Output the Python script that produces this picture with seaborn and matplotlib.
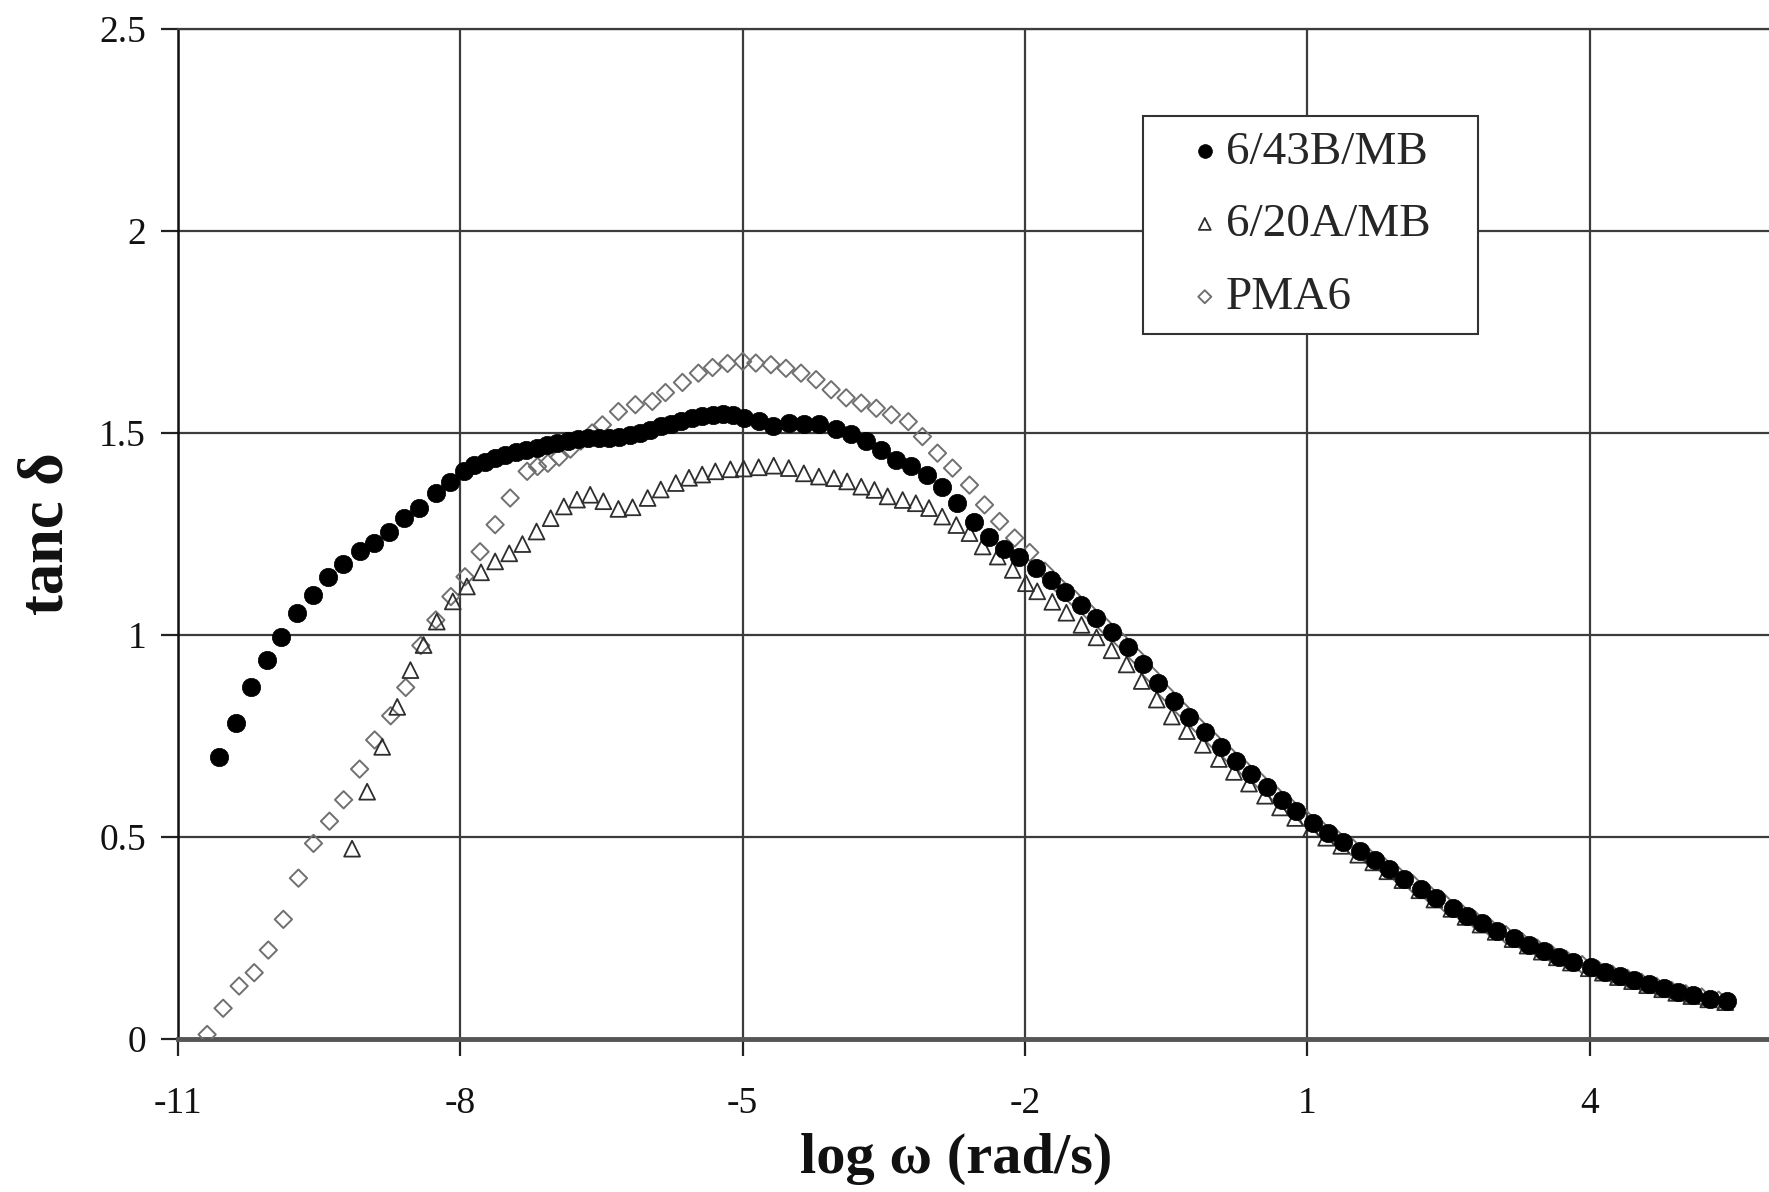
import matplotlib
matplotlib.use("Agg")
import matplotlib.pyplot as plt
import seaborn as sns
import pandas as pd

# ---------------- data ----------------
b43_x = [-10.56, -10.38, -10.22, -10.05, -9.90, -9.73, -9.57, -9.41, -9.25, -9.07,
         -8.92, -8.76, -8.60, -8.44, -8.26, -8.11, -7.96, -7.85, -7.74, -7.63,
         -7.52, -7.41, -7.30, -7.19, -7.08, -6.97, -6.86, -6.75, -6.64, -6.53,
         -6.42, -6.31, -6.20, -6.09, -5.98, -5.87, -5.76, -5.65, -5.54, -5.43,
         -5.32, -5.21, -5.10, -4.99, -4.83, -4.68, -4.51, -4.35, -4.19, -4.01,
         -3.85, -3.69, -3.53, -3.37, -3.21, -3.04, -2.88, -2.72, -2.54, -2.38,
         -2.22, -2.06, -1.88, -1.72, -1.57, -1.41, -1.25, -1.08, -0.91, -0.75,
         -0.59, -0.42, -0.26, -0.09, 0.08, 0.24, 0.40, 0.57, 0.73, 0.88,
         1.06, 1.22, 1.38, 1.56, 1.72, 1.87, 2.03, 2.21, 2.37, 2.55,
         2.70, 2.86, 3.02, 3.20, 3.36, 3.51, 3.67, 3.82, 4.01, 4.16,
         4.32, 4.47, 4.63, 4.79, 4.94, 5.10, 5.28, 5.46]
b43_y = [0.699, 0.782, 0.871, 0.937, 0.996, 1.054, 1.099, 1.143, 1.175, 1.208,
         1.227, 1.256, 1.289, 1.314, 1.351, 1.378, 1.407, 1.420, 1.429, 1.437,
         1.446, 1.453, 1.459, 1.464, 1.470, 1.475, 1.480, 1.484, 1.487, 1.487,
         1.488, 1.490, 1.495, 1.500, 1.508, 1.516, 1.523, 1.530, 1.536, 1.541,
         1.544, 1.546, 1.545, 1.538, 1.530, 1.518, 1.524, 1.523, 1.521, 1.510,
         1.498, 1.479, 1.458, 1.434, 1.417, 1.396, 1.367, 1.326, 1.280, 1.243,
         1.214, 1.192, 1.165, 1.136, 1.107, 1.074, 1.041, 1.008, 0.971, 0.928,
         0.880, 0.836, 0.798, 0.761, 0.723, 0.688, 0.657, 0.624, 0.592, 0.563,
         0.534, 0.510, 0.488, 0.464, 0.443, 0.420, 0.397, 0.372, 0.348, 0.325,
         0.305, 0.286, 0.267, 0.249, 0.233, 0.218, 0.204, 0.191, 0.177, 0.166,
         0.155, 0.145, 0.135, 0.125, 0.116, 0.108, 0.100, 0.093]

a20_x = [-9.15, -8.99, -8.83, -8.67, -8.53, -8.39, -8.25, -8.08, -7.93, -7.78,
         -7.63, -7.48, -7.34, -7.19, -7.04, -6.90, -6.76, -6.62, -6.48, -6.32,
         -6.17, -6.01, -5.87, -5.71, -5.57, -5.43, -5.29, -5.13, -4.99, -4.83,
         -4.67, -4.51, -4.35, -4.19, -4.03, -3.89, -3.74, -3.60, -3.46, -3.30,
         -3.16, -3.02, -2.88, -2.73, -2.59, -2.45, -2.29, -2.13, -1.99, -1.87,
         -1.71, -1.56, -1.40, -1.24, -1.08, -0.92, -0.76, -0.60, -0.44, -0.28,
         -0.11, 0.06, 0.22, 0.38, 0.55, 0.71, 0.87, 1.04, 1.20, 1.36,
         1.54, 1.70, 1.85, 2.01, 2.19, 2.35, 2.53, 2.68, 2.84, 3.00,
         3.18, 3.34, 3.49, 3.65, 3.80, 3.99, 4.14, 4.30, 4.45, 4.61,
         4.77, 4.92, 5.08, 5.26, 5.44]
a20_y = [0.471, 0.612, 0.723, 0.822, 0.913, 0.975, 1.033, 1.083, 1.120, 1.155,
         1.182, 1.202, 1.225, 1.256, 1.289, 1.318, 1.335, 1.347, 1.331, 1.312,
         1.316, 1.339, 1.360, 1.376, 1.389, 1.397, 1.405, 1.410, 1.412, 1.415,
         1.419, 1.413, 1.400, 1.392, 1.388, 1.380, 1.367, 1.359, 1.343, 1.334,
         1.326, 1.314, 1.293, 1.272, 1.252, 1.219, 1.194, 1.161, 1.128, 1.108,
         1.082, 1.055, 1.025, 0.994, 0.962, 0.927, 0.886, 0.840, 0.798, 0.762,
         0.728, 0.693, 0.661, 0.632, 0.602, 0.573, 0.547, 0.520, 0.498, 0.478,
         0.456, 0.437, 0.415, 0.393, 0.368, 0.345, 0.322, 0.302, 0.283, 0.265,
         0.247, 0.231, 0.216, 0.202, 0.189, 0.175, 0.164, 0.153, 0.143, 0.133,
         0.123, 0.114, 0.106, 0.098, 0.091]

pma_x = [-10.69, -10.52, -10.35, -10.19, -10.04, -9.88, -9.72, -9.56, -9.39, -9.24,
         -9.07, -8.91, -8.74, -8.58, -8.42, -8.26, -8.10, -7.95, -7.79, -7.63,
         -7.47, -7.29, -7.18, -7.07, -6.95, -6.83, -6.72, -6.60, -6.49, -6.32,
         -6.14, -5.96, -5.82, -5.64, -5.47, -5.32, -5.16, -5.00, -4.86, -4.70,
         -4.54, -4.38, -4.22, -4.06, -3.90, -3.74, -3.58, -3.42, -3.24, -3.09,
         -2.93, -2.77, -2.59, -2.43, -2.27, -2.11, -1.95, -1.79, -1.63, -1.47,
         -1.31, -1.15, -0.99, -0.83, -0.67, -0.51, -0.34, -0.18, -0.01, 0.16,
         0.32, 0.49, 0.65, 0.81, 0.97, 1.14, 1.30, 1.47, 1.64, 1.80,
         1.95, 2.12, 2.29, 2.46, 2.63, 2.78, 2.94, 3.11, 3.28, 3.44,
         3.59, 3.75, 3.92, 4.09, 4.24, 4.40, 4.55, 4.71, 4.87, 5.02,
         5.19, 5.37]
pma_y = [0.011, 0.076, 0.131, 0.164, 0.220, 0.296, 0.398, 0.484, 0.539, 0.592,
         0.668, 0.740, 0.800, 0.870, 0.974, 1.037, 1.095, 1.144, 1.206, 1.273,
         1.339, 1.405, 1.417, 1.425, 1.440, 1.460, 1.480, 1.500, 1.520, 1.553,
         1.570, 1.578, 1.600, 1.625, 1.648, 1.662, 1.672, 1.677, 1.673, 1.669,
         1.660, 1.648, 1.632, 1.607, 1.587, 1.574, 1.561, 1.545, 1.528, 1.491,
         1.450, 1.413, 1.371, 1.322, 1.281, 1.240, 1.204, 1.158, 1.120, 1.088,
         1.055, 1.022, 0.988, 0.950, 0.904, 0.858, 0.817, 0.780, 0.742, 0.705,
         0.672, 0.640, 0.608, 0.577, 0.548, 0.521, 0.499, 0.476, 0.453, 0.431,
         0.408, 0.384, 0.360, 0.336, 0.314, 0.295, 0.276, 0.258, 0.241, 0.225,
         0.211, 0.197, 0.184, 0.171, 0.160, 0.150, 0.140, 0.130, 0.120, 0.112,
         0.104, 0.096]

series_names = ["6/43B/MB", "6/20A/MB", "PMA6"]
x_ticks = [-11, -8, -5, -2, 1, 4]
x_ticklabels = ["-11", "-8", "-5", "-2", "1", "4"]
y_ticks = [0, 0.5, 1, 1.5, 2, 2.5]
y_ticklabels = ["0", "0.5", "1", "1.5", "2", "2.5"]

# ---------------- style ----------------
sns.set_theme(style="white")
plt.rcParams["font.family"] = ["Liberation Serif", "DejaVu Serif"]
plt.rcParams["axes.unicode_minus"] = False

fig = plt.figure(figsize=(17.69, 11.92), dpi=100)
ax = fig.add_axes([0.1006, 0.1284, 0.8994, 0.8473])

df_b = pd.DataFrame({"x": b43_x, "y": b43_y})
df_a = pd.DataFrame({"x": a20_x, "y": a20_y})
df_p = pd.DataFrame({"x": pma_x, "y": pma_y})

sns.scatterplot(data=df_p, x="x", y="y", marker="D", s=78, facecolor="none",
                edgecolor="#707070", linewidth=1.4, label=series_names[2], ax=ax, zorder=3)
sns.scatterplot(data=df_a, x="x", y="y", marker="^", s=130, facecolor="none",
                edgecolor="#2e2e2e", linewidth=1.3, label=series_names[1], ax=ax, zorder=4)
sns.scatterplot(data=df_b, x="x", y="y", marker="o", s=175, color="black",
                edgecolor="black", linewidth=0.5, label=series_names[0], ax=ax, zorder=5)

ax.set_xlim(-11, 5.905)
ax.set_ylim(0, 2.5)
ax.set_xticks(x_ticks)
ax.set_xticklabels(x_ticklabels)
ax.set_yticks(y_ticks)
ax.set_yticklabels(y_ticklabels)

ax.grid(True, color="#3c3c3c", linewidth=1.6)
ax.set_axisbelow(True)
ax.tick_params(axis="both", which="major", direction="out", length=12, width=1.6,
               color="#222222", labelsize=27, labelcolor="#111111", left=True, bottom=True)
ax.tick_params(axis="x", pad=22)
ax.tick_params(axis="y", pad=11)

ax.spines["right"].set_visible(False)
ax.spines["top"].set_color("#3c3c3c")
ax.spines["top"].set_linewidth(1.6)
ax.spines["left"].set_color("#111111")
ax.spines["left"].set_linewidth(1.8)
ax.spines["bottom"].set_color("#555555")
ax.spines["bottom"].set_linewidth(3.5)

ax.set_xlabel("log ω (rad/s)", fontsize=42, fontweight="bold", color="#111111")
ax.set_ylabel("tanc δ", fontsize=45, fontweight="bold", color="#111111")
ax.xaxis.set_label_coords(0.489, -0.093)
ax.yaxis.set_label_coords(-0.064, 0.5)

handles, labels = ax.get_legend_handles_labels()
order = [labels.index(n) for n in series_names]
leg = ax.legend([handles[i] for i in order], [labels[i] for i in order],
                loc="upper left", bbox_to_anchor=(0.6065, 0.0, 0.2106, 0.914),
                mode="expand", borderaxespad=0,
                fontsize=34, frameon=True, fancybox=False, framealpha=1,
                edgecolor="#333333", markerscale=0.75, handletextpad=-0.55,
                handlelength=2.0, labelspacing=0.63, borderpad=0.31)
leg.get_frame().set_linewidth(1.5)
leg.set_zorder(10)

fig.savefig("out.png", dpi=100, facecolor="white")
